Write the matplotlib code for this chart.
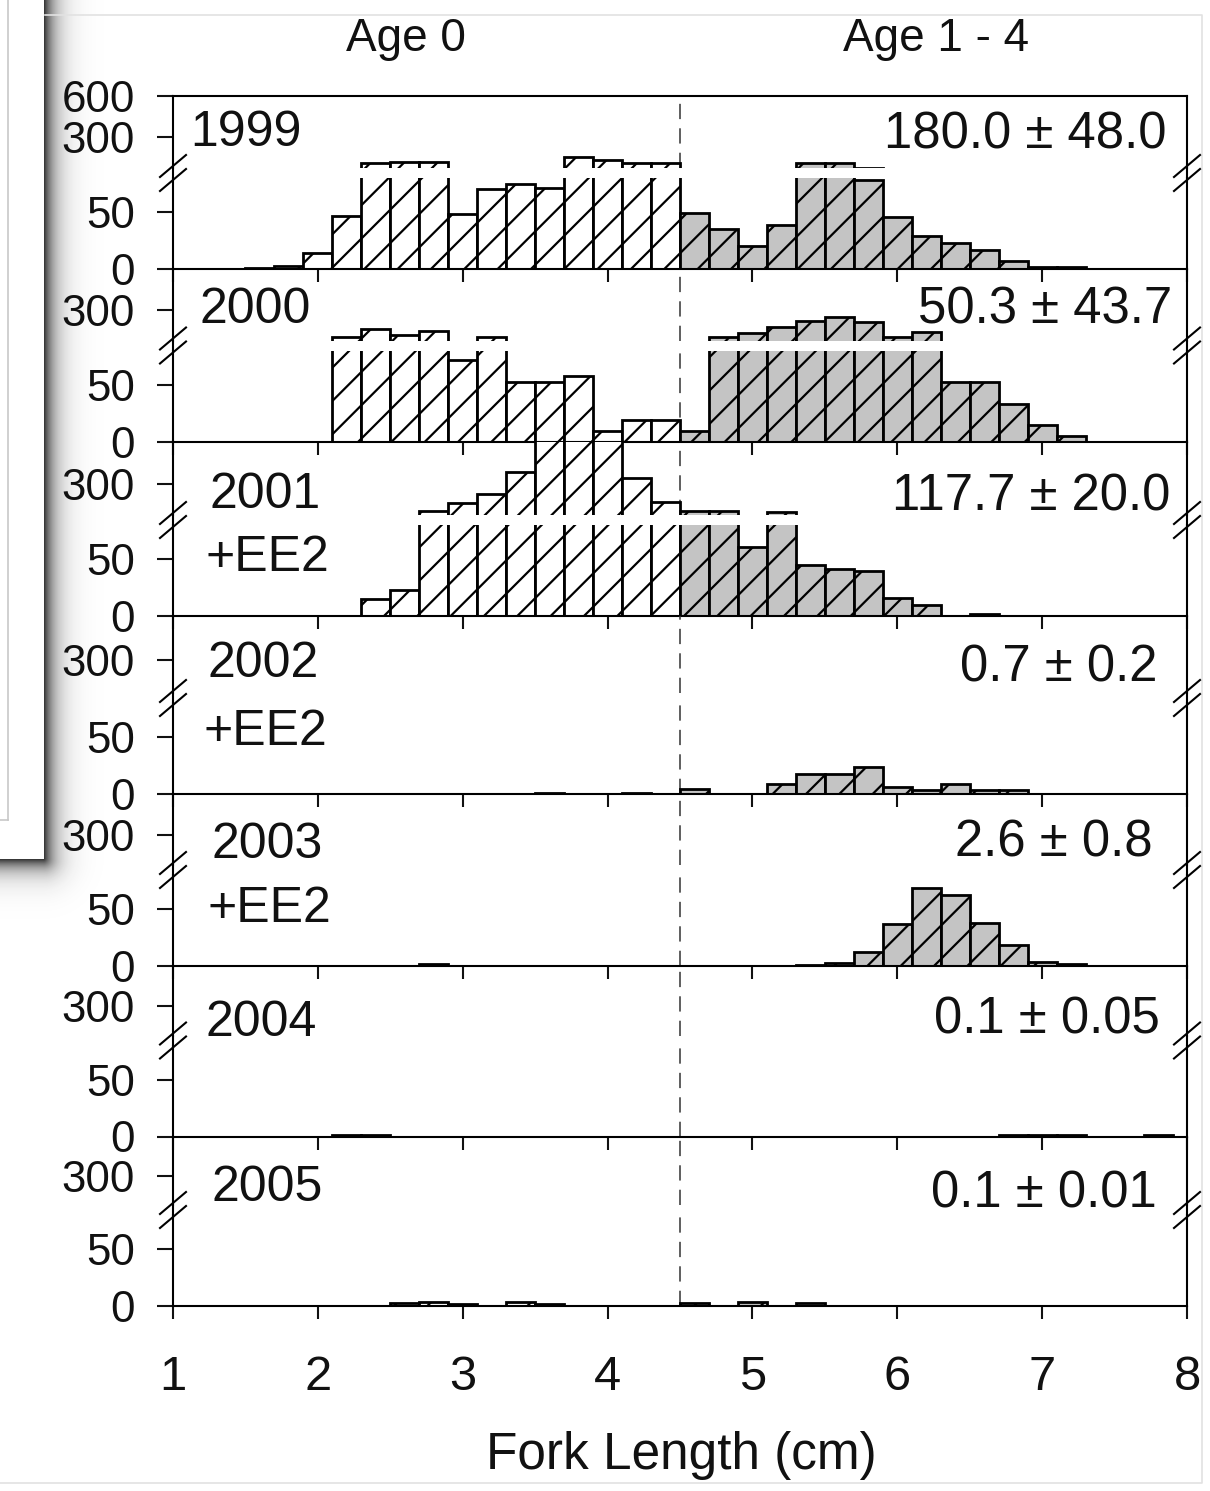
import numpy as np
import matplotlib
matplotlib.use("Agg")
import matplotlib.pyplot as plt
from matplotlib.lines import Line2D

plt.rcParams["font.family"] = ["Liberation Sans", "DejaVu Sans"]
plt.rcParams["hatch.linewidth"] = 0.8
plt.rcParams["hatch.color"] = "black"
plt.rcParams["axes.linewidth"] = 0.75

# Fork length bin centres (cm), bins are 0.2 cm wide
fork_length = [1.4, 1.6, 1.8, 2.0, 2.2, 2.4, 2.6, 2.8, 3.0, 3.2, 3.4,
               3.6, 3.8, 4.0, 4.2, 4.4, 4.6, 4.8, 5.0, 5.2, 5.4, 5.6,
               5.8, 6.0, 6.2, 6.4, 6.6, 6.8, 7.0, 7.2, 7.4, 7.6, 7.8]

# Counts per bin (values > 600 are off scale)
n_1999 = [0, 1, 3, 14, 47, 114, 121, 121, 48, 70, 75, 71, 162, 137, 114, 114, 49,
          35, 20, 39, 114, 118, 78, 46, 29, 23, 17, 7, 2, 1.5, 0, 0, 0]
n_2000 = [0, 0, 0, 0, 108, 161, 120, 151, 72, 108, 52, 52, 57.6, 9.5, 19, 19, 9.5,
          108, 132, 176, 224, 249, 212, 108, 144, 52, 52, 33, 14.5, 5, 0, 0, 0]
n_2001 = [0, 0, 0, 0, 0, 14.7, 23, 110, 163, 228, 382, 650, 650, 650, 339, 174, 110,
          110, 61, 103, 45, 41, 40, 16, 10, 0, 1.5, 0, 0, 0, 0, 0, 0]
n_2002 = [0, 0, 0, 0, 0, 0, 0, 0, 0, 0, 0, 1, 0, 0, 1, 0, 4,
          0, 0, 9, 18, 18, 23.5, 6.4, 3.5, 9, 3.5, 3.5, 0, 0, 0, 0, 0]
n_2003 = [0, 0, 0, 0, 0, 0, 0, 2, 0, 0, 0, 0, 0, 0, 0, 0, 0,
          0, 0, 0, 1, 3, 12, 37, 69, 62, 38, 18.5, 3.3, 1.5, 0, 0, 0]
n_2004 = [0, 0, 0, 0, 1, 1, 0, 0, 0, 0, 0, 0, 0, 0, 0, 0, 0,
          0, 0, 0, 0, 0, 0, 0, 0, 0, 0, 1, 1, 1, 0, 0, 1]
n_2005 = [0, 0, 0, 0, 0, 0, 2.5, 3.5, 2, 0, 3.5, 2, 0, 0, 0, 0, 2.5,
          0, 3.5, 0, 2.5, 0, 0, 0, 0, 0, 0, 0, 0, 0, 0, 0, 0]

years = ["1999", "2000", "2001", "2002", "2003", "2004", "2005"]
treatment = ["", "", "+EE2", "+EE2", "+EE2", "", ""]
density = ["180.0 ± 48.0", "50.3 ± 43.7", "117.7 ± 20.0", "0.7 ± 0.2",
           "2.6 ± 0.8", "0.1 ± 0.05", "0.1 ± 0.01"]
counts = [n_1999, n_2000, n_2001, n_2002, n_2003, n_2004, n_2005]
age_split = 4.5

# ---- layout (pixels) ----
W, H = 1210, 1491
fig = plt.figure(figsize=(W / 200, H / 200), dpi=200)
fig.patch.set_facecolor("white")


def fx(px):
    return px / W


def fy(py):
    return 1 - py / H


x_left, x_right = 173, 1187
base = [269, 441.5, 616, 794, 966, 1136.5, 1306]
top = [95.5] + base[:-1]
low_h, gap = 91, 10

# label positions: year (x, y), treatment y, density (right x, y)
year_pos = [(190, 133), (200, 310), (210, 495), (207, 664), (212, 845), (206, 1023), (212, 1188)]
treat_y = [None, None, 558, 732, 909, None, None]
dens_pos = [(1167, 135), (1172, 310), (1170, 497), (1157, 668), (1153, 843), (1160, 1020), (1157, 1194)]

# ---- background: screenshot window + drop shadow on the left ----
bg = fig.add_axes([0, 0, 1, 1], zorder=-10)
bg.axis("off")
yy, xx = np.mgrid[0:H, 0:W]
d = np.hypot(np.clip(xx - 43, 0, None), np.clip(yy - 858, 0, None))
alpha = np.where((xx > 43) | (yy > 858), 0.95 * np.exp(-d / 11.0), 0.0)
img = np.zeros((H, W, 4))
img[..., :3] = 0.1
img[..., 3] = alpha
bg.imshow(img, extent=[0, W, H, 0], aspect="auto", interpolation="bilinear")
bg.plot([8, 8], [0, 820], color="#c8c8c8", lw=0.6)
bg.plot([0, 8], [820, 820], color="#c8c8c8", lw=0.6)
bg.plot([45, 1202, 1202, 0], [15, 15, 1483, 1483], color="#e2e2e2", lw=0.6)
bg.set_xlim(0, W)
bg.set_ylim(H, 0)

bar_cols = ["white" if c < age_split else "#c4c4c4" for c in fork_length]

for i, yr in enumerate(years):
    b, t = base[i], top[i]
    up_bottom = b - low_h - gap
    ax_lo = fig.add_axes([fx(x_left), fy(b), fx(x_right) - fx(x_left), low_h / H])
    ax_up = fig.add_axes([fx(x_left), fy(up_bottom), fx(x_right) - fx(x_left), (up_bottom - t) / H])

    xs = [x for x, n in zip(fork_length, counts[i]) if n > 0]
    ns = [n for n in counts[i] if n > 0]
    cs = [c for c, n in zip(bar_cols, counts[i]) if n > 0]

    for ax in (ax_lo, ax_up):
        ax.set_facecolor("none")
        ax.bar(xs, ns, width=0.2, color=cs, edgecolor="black", linewidth=1.0,
               hatch="//", zorder=2)
        ax.axvline(age_split, color="#333333", lw=0.55, ls=(0, (10, 6)), zorder=1)
        ax.set_xlim(1, 8)
        ax.tick_params(axis="y", direction="out", length=5.8, width=0.75,
                       labelsize=15.8, pad=8, colors="#111111")

    ax_lo.set_ylim(0, 80)
    ax_lo.set_yticks([0, 50])
    ax_lo.spines["top"].set_visible(False)
    ax_lo.set_xticks(range(1, 9))
    ax_lo.tick_params(axis="x", direction="out", length=4.7, width=0.75,
                      labelsize=17.6, pad=13, colors="#111111",
                      labelbottom=(i == len(years) - 1))

    ax_up.set_ylim(80, 600)
    ax_up.set_yticks([300, 600] if i == 0 else [300])
    ax_up.spines["bottom"].set_visible(False)
    ax_up.spines["top"].set_visible(i == 0)
    ax_up.tick_params(axis="x", bottom=False, labelbottom=False)

    # spines continue through the gap, with break marks
    for sx in (0, 1):
        ax_lo.plot([sx, sx], [1, 1 + gap / low_h], transform=ax_lo.transAxes,
                   color="black", lw=0.75, clip_on=False)
    for px in (x_left, x_right):
        for yc in (b - 103, b - 89):
            fig.add_artist(Line2D([fx(px - 13), fx(px + 13)], [fy(yc + 11), fy(yc - 11)],
                                  transform=fig.transFigure, color="black", lw=0.75))

    # panel labels
    fig.text(fx(year_pos[i][0]), fy(year_pos[i][1]), yr, fontsize=18,
             ha="left", va="center", color="#111111")
    if treat_y[i] is not None:
        fig.text(fx(year_pos[i][0] - 4), fy(treat_y[i]), treatment[i], fontsize=18,
                 ha="left", va="center", color="#111111")
    fig.text(fx(dens_pos[i][0]), fy(dens_pos[i][1]), density[i], fontsize=18.3,
             ha="right", va="center", color="#111111")

fig.text(fx(406), fy(39), "Age 0", fontsize=16.5, ha="center", va="center", color="#111111")
fig.text(fx(936), fy(39), "Age 1 - 4", fontsize=16.5, ha="center", va="center", color="#111111")
fig.text(fx(681), fy(1455), "Fork Length (cm)", fontsize=18.5, ha="center", va="center",
         color="#111111")

fig.savefig("out.png", dpi=200)
